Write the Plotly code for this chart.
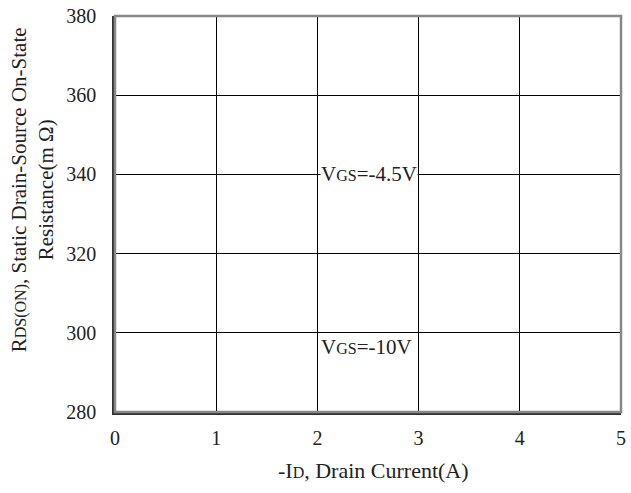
import plotly.graph_objects as go

# Axis ticks
x_ticks = [0, 1, 2, 3, 4, 5]
y_ticks = [280, 300, 320, 340, 360, 380]

# Curve labels and their anchor positions (drain current, resistance)
label_text = ["V<span style='font-size:16px'>GS</span>=-4.5V",
              "V<span style='font-size:16px'>GS</span>=-10V"]
label_x = [2, 2]
label_y = [340, 300]

FONT = "Liberation Serif, Times New Roman, serif"
COL = "#222"

fig = go.Figure()
fig.add_trace(go.Scatter(x=[], y=[], mode="lines", showlegend=False))

for i, t in enumerate(label_text):
    fig.add_annotation(
        x=label_x[i], y=label_y[i], xref="x", yref="y", text=t,
        showarrow=False, xanchor="left",
        yanchor="middle" if i == 0 else "top",
        xshift=3, yshift=0 if i == 0 else -1,
        bgcolor="white" if i == 0 else "rgba(0,0,0,0)",
        borderpad=0,
        font=dict(family=FONT, size=21, color=COL),
    )

# Axis titles as annotations
fig.add_annotation(
    x=-0.164, y=0.56, xref="paper", yref="paper",
    text="R<span style='font-size:16px'>DS(ON)</span>, Static Drain-Source On-State<br>Resistance(m Ω)",
    textangle=-90, showarrow=False, xanchor="center", yanchor="middle",
    font=dict(family=FONT, size=21, color=COL),
)
fig.add_annotation(
    x=0.51, y=0, xref="paper", yref="paper", yshift=-58,
    text="-I<span style='font-size:16px'>D</span>, Drain Current(A)",
    showarrow=False, xanchor="center", yanchor="middle",
    font=dict(family=FONT, size=22, color=COL),
)

# Frame (gray top/right)
fig.add_shape(type="rect", xref="paper", yref="paper", x0=0, y0=0, x1=1, y1=1,
              line=dict(color="#888", width=2.5), layer="above")

fig.update_xaxes(
    range=[0, 5], tickvals=x_ticks, ticktext=[str(v) for v in x_ticks],
    showgrid=True, gridcolor="black", gridwidth=1,
    showline=True, linecolor="#333", linewidth=2.5, mirror=False,
    zeroline=False, ticks="", ticklabelstandoff=6,
    tickfont=dict(family=FONT, size=20, color=COL),
)
fig.update_yaxes(
    range=[280, 380], tickvals=y_ticks, ticktext=[str(v) for v in y_ticks],
    showgrid=True, gridcolor="black", gridwidth=1,
    showline=True, linecolor="#333", linewidth=2.5, mirror=False,
    zeroline=False, ticks="", ticklabelstandoff=12,
    tickfont=dict(family=FONT, size=20, color=COL),
)

fig.update_layout(
    width=631, height=493,
    margin=dict(l=115, r=5, t=16, b=81),
    plot_bgcolor="white", paper_bgcolor="white",
    showlegend=False,
)

fig.write_html("out.html")
